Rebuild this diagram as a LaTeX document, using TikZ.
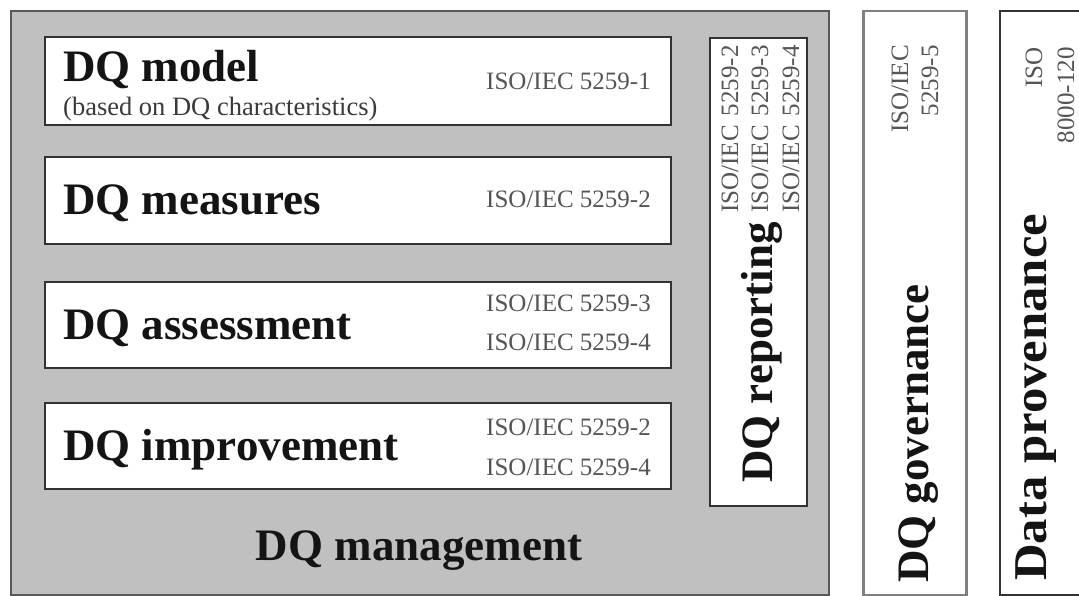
\documentclass[tikz,border=0pt]{standalone}
\usepackage{fontspec}
\setmainfont{Liberation Serif}
\definecolor{mgmtgray}{HTML}{C0C0C0}
\definecolor{isogray}{HTML}{555555}
\definecolor{subgray}{HTML}{3A3A3A}
\begin{document}
\begin{tikzpicture}[x=1pt,y=-1pt,
  big/.style={font=\fontsize{45}{50}\selectfont\bfseries, text=black!92, inner sep=0pt},
  bigger/.style={font=\fontsize{47}{52}\selectfont\bfseries, text=black!92, inner sep=0pt},
  iso/.style={font=\fontsize{25}{28}\selectfont, text=isogray, inner sep=0pt},
  sub/.style={font=\fontsize{26.5}{30}\selectfont, text=subgray, inner sep=0pt},
  wbox/.style={draw=black!80, line width=2pt, fill=white, anchor=north west, inner sep=0pt},
]
\useasboundingbox (0,0) rectangle (1079,596);
\clip (0,0) rectangle (1079,596);
% boxes
\node[draw=black!65, line width=2pt, fill=mgmtgray, anchor=north west, inner sep=0pt,
      minimum width=818pt, minimum height=584pt] (mgmt) at (10,10) {};
\node[wbox, minimum width=626pt, minimum height=88pt] (model) at (44,36) {};
\node[wbox, minimum width=626pt, minimum height=87pt] (measures) at (44,156) {};
\node[wbox, minimum width=626pt, minimum height=86pt] (assess) at (44,281) {};
\node[wbox, minimum width=626pt, minimum height=86pt] (improve) at (44,402) {};
\node[wbox, minimum width=97pt, minimum height=468pt] (report) at (709,37) {};
\node[wbox, draw=black!50, line width=2.5pt, minimum width=103pt, minimum height=584pt] (gov) at (862,10) {};
\node[wbox, minimum width=110pt, minimum height=584pt] (prov) at (999,10) {};
% texts in the horizontal boxes
\node[big, anchor=base west] (tmodel) at (63,82) {DQ model};
\node[sub, anchor=base west] (tmodelsub) at (63,116) {(based on DQ characteristics)};
\node[iso, anchor=base east] (imodel) at (651,90) {ISO/IEC 5259-1};
\node[big, anchor=base west] (tmeasures) at (63,214.5) {DQ measures};
\node[iso, anchor=base east] (imeasures) at (651,208) {ISO/IEC 5259-2};
\node[big, anchor=base west] (tassess) at (63,339) {DQ assessment};
\node[iso, anchor=base east] (iassessa) at (651,311) {ISO/IEC 5259-3};
\node[iso, anchor=base east] (iassessb) at (651,350) {ISO/IEC 5259-4};
\node[big, anchor=base west] (timprove) at (63,460) {DQ improvement};
\node[iso, anchor=base east] (iimprovea) at (651,435) {ISO/IEC 5259-2};
\node[iso, anchor=base east] (iimproveb) at (651,475) {ISO/IEC 5259-4};
\node[big, anchor=base] (tmgmt) at (419,560) {DQ management};
% DQ reporting
\node[big, anchor=base west, rotate=90] (treport) at (772,483) {DQ reporting};
\node[iso, anchor=base west, rotate=90] (ireporta) at (738,213) {ISO/IEC\hspace{3pt} 5259-2};
\node[iso, anchor=base west, rotate=90] (ireportb) at (768,213) {ISO/IEC\hspace{3pt} 5259-3};
\node[iso, anchor=base west, rotate=90] (ireportc) at (799,213) {ISO/IEC\hspace{3pt} 5259-4};
% DQ governance
\node[big, anchor=base west, rotate=90] (tgov) at (928,583) {DQ governance};
\node[iso, anchor=base east, rotate=90] (igova) at (908,45) {ISO/IEC};
\node[iso, anchor=base east, rotate=90] (igovb) at (938,45) {5259-5};
% Data provenance
\node[bigger, anchor=base west, rotate=90] (tprov) at (1046,581) {\scalebox{1.08}[1]{Data provenance}};
\node[iso, anchor=base east, rotate=90] (iprova) at (1042,47) {ISO};
\node[iso, anchor=base east, rotate=90] (iprovb) at (1074,47) {8000-120};
\end{tikzpicture}
\end{document}
